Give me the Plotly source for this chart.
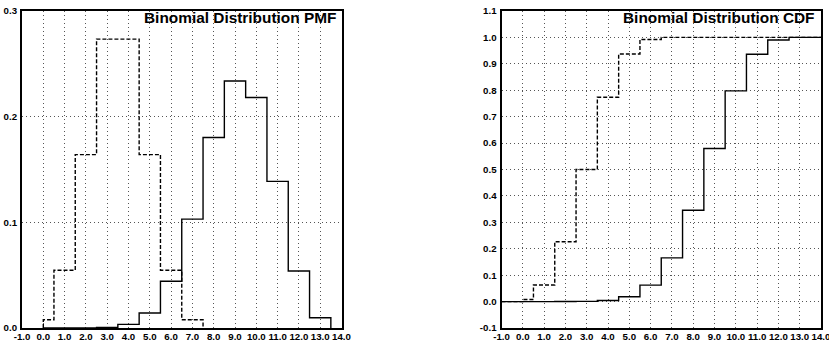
import plotly.graph_objects as go

# ---- data ----
k_a = [0, 1, 2, 3, 4, 5, 6, 7]
pmf_a = [0.0078, 0.0547, 0.1641, 0.2734, 0.2734, 0.1641, 0.0547, 0.0078]
cdf_a = [0.0078, 0.0625, 0.2266, 0.5000, 0.7734, 0.9375, 0.9922, 1.0000]

k_b = [0, 1, 2, 3, 4, 5, 6, 7, 8, 9, 10, 11, 12, 13]
pmf_b = [0.0, 0.0, 0.0001, 0.0006, 0.0034, 0.0142, 0.0442, 0.1030,
         0.1803, 0.2337, 0.2181, 0.1388, 0.0540, 0.0097]
cdf_b = [0.0, 0.0, 0.0001, 0.0007, 0.0041, 0.0183, 0.0624, 0.1654,
         0.3457, 0.5794, 0.7975, 0.9363, 0.9903, 1.0000]

x_min, x_max = -1.0, 14.0
pmf_title = "Binomial Distribution PMF"
cdf_title = "Binomial Distribution CDF"
x_ticks = [float(v) for v in range(-1, 15)]
pmf_yticks = [0.0, 0.1, 0.2, 0.3]
cdf_yticks = [round(-0.1 + 0.1 * i, 1) for i in range(13)]


def pmf_steps(k, p):
    xs = [0.0] + [max(v - 0.5, 0.0) for v in k] + [k[-1] + 0.5]
    ys = [0.0] + list(p) + [0.0]
    return xs, ys


def cdf_steps(k, c):
    xs = [x_min] + [max(v - 0.5, 0.0) for v in k] + [x_max]
    ys = [0.0] + list(c) + [c[-1]]
    return xs, ys


fig = go.Figure()
dash = "4px,2px"
lw = 1.4

xa, ya = pmf_steps(k_a, pmf_a)
fig.add_trace(go.Scatter(x=xa, y=ya, mode="lines", line=dict(color="black", width=lw, dash=dash, shape="hv"),
                         xaxis="x", yaxis="y", showlegend=False))
xb, yb = pmf_steps(k_b, pmf_b)
fig.add_trace(go.Scatter(x=xb, y=yb, mode="lines", line=dict(color="black", width=lw, shape="hv"),
                         xaxis="x", yaxis="y", showlegend=False))
xa2, ya2 = cdf_steps(k_a, cdf_a)
fig.add_trace(go.Scatter(x=xa2, y=ya2, mode="lines", line=dict(color="black", width=lw, dash=dash, shape="hv"),
                         xaxis="x2", yaxis="y2", showlegend=False))
xb2, yb2 = cdf_steps(k_b, cdf_b)
fig.add_trace(go.Scatter(x=xb2, y=yb2, mode="lines", line=dict(color="black", width=lw, shape="hv"),
                         xaxis="x2", yaxis="y2", showlegend=False))

FONT = "Liberation Sans, Arial, sans-serif"
tickfont = dict(family=FONT, size=9.7, color="black")
grid = dict(showgrid=True, gridcolor="#555555", gridwidth=1, griddash="1px,3px",
            showline=True, linecolor="black", linewidth=2, mirror=True,
            zeroline=False, ticks="", tickfont=tickfont, ticklabeloverflow="allow")

W, H = 829, 343
y_dom = [1 - 328 / H, 1 - 11 / H]


def bold(v):
    return f"<b>{v:.1f}</b>"


fig.update_layout(
    width=W, height=H,
    margin=dict(l=0, r=0, t=0, b=0, autoexpand=False),
    paper_bgcolor="white", plot_bgcolor="white",
    xaxis=dict(domain=[22 / W, 341.5 / W], range=[x_min, x_max], tickvals=x_ticks,
               ticktext=[bold(v) for v in x_ticks], anchor="y", ticklabelstandoff=-2, **grid),
    yaxis=dict(domain=y_dom, range=[0, 0.3], tickvals=pmf_yticks,
               ticktext=[bold(v) for v in pmf_yticks], anchor="x", ticklabelstandoff=1, **grid),
    xaxis2=dict(domain=[501.5 / W, 821 / W], range=[x_min, x_max], tickvals=x_ticks,
                ticktext=[bold(v) for v in x_ticks], anchor="y2", ticklabelstandoff=-2, **grid),
    yaxis2=dict(domain=y_dom, range=[-0.1, 1.1], tickvals=cdf_yticks,
                ticktext=[bold(v) for v in cdf_yticks], anchor="x2", ticklabelstandoff=1, **grid),
    annotations=[
        dict(text=f"<b>{pmf_title}</b>", xref="x domain", yref="y domain", x=0.988, y=1.012,
             xanchor="right", yanchor="top", showarrow=False,
             font=dict(family=FONT, size=15.4, color="black")),
        dict(text=f"<b>{cdf_title}</b>", xref="x2 domain", yref="y2 domain", x=0.988, y=1.012,
             xanchor="right", yanchor="top", showarrow=False,
             font=dict(family=FONT, size=15.4, color="black")),
    ],
)

fig.write_html("out.html", config={"displayModeBar": False},
               post_script="document.body.style.margin='0';document.body.style.overflow='hidden';")
